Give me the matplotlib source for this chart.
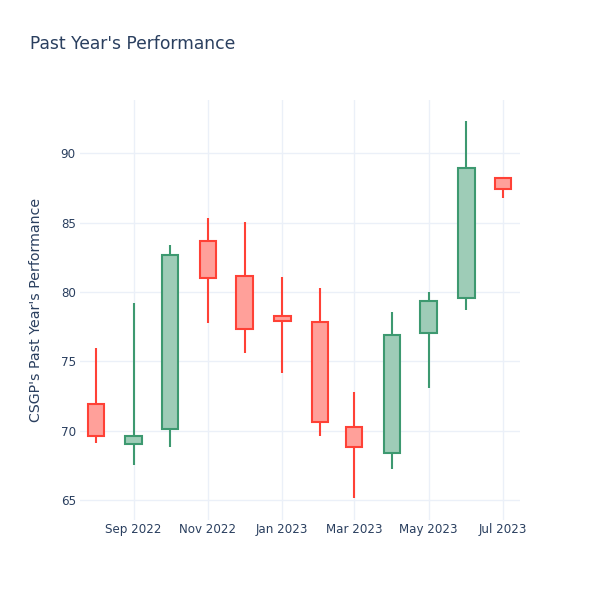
import numpy as np
import matplotlib
matplotlib.use("Agg")
import matplotlib.pyplot as plt
import matplotlib.dates as mdates
import pandas as pd

# monthly OHLC
months = ["2022-08-01", "2022-09-01", "2022-10-01", "2022-11-01", "2022-12-01", "2023-01-01",
          "2023-02-01", "2023-03-01", "2023-04-01", "2023-05-01", "2023-06-01", "2023-07-01"]
opens = [71.92, 69.03, 70.14, 83.68, 81.16, 78.30, 77.87, 70.28, 68.43, 77.06, 79.58, 88.22]
highs = [75.95, 79.19, 83.37, 85.32, 85.03, 81.11, 80.30, 72.78, 78.59, 80.03, 92.33, 88.27]
lows = [69.11, 67.55, 68.87, 77.80, 75.64, 74.15, 69.63, 65.14, 67.23, 73.07, 78.71, 86.76]
closes = [69.63, 69.63, 82.70, 81.04, 77.32, 77.90, 70.67, 68.84, 76.91, 79.39, 88.97, 87.45]

dates = pd.to_datetime(months)
x = mdates.date2num(dates)

inc_line, inc_fill = "#3D9970", "#9ECCB7"
dec_line, dec_fill = "#FF4136", "#FFA09A"
text_col = "#2a3f5f"
grid_col = "#EBF0F8"

fig = plt.figure(figsize=(6, 6), dpi=100)
ax = fig.add_axes([80 / 600, 80 / 600, 440 / 600, 420 / 600])

for xi, o, h, l, c in zip(x, opens, highs, lows, closes):
    up = c >= o
    lc = inc_line if up else dec_line
    fc = inc_fill if up else dec_fill
    lo_b, hi_b = min(o, c), max(o, c)
    ax.vlines(xi, l, lo_b, color=lc, lw=1.5, zorder=2)
    ax.vlines(xi, hi_b, h, color=lc, lw=1.5, zorder=2)
    ax.bar(xi, hi_b - lo_b, bottom=lo_b, width=13.5, color=fc, edgecolor=lc,
           linewidth=1.5, zorder=3)

ax.set_xlim(mdates.date2num(pd.Timestamp("2022-07-19")), mdates.date2num(pd.Timestamp("2023-07-15")))
ax.set_ylim(63.58, 93.84)

ax.xaxis.set_major_locator(mdates.MonthLocator(bymonth=[1, 3, 5, 7, 9, 11]))
ax.xaxis.set_major_formatter(mdates.DateFormatter("%b %Y"))
ax.set_yticks([65, 70, 75, 80, 85, 90])

ax.grid(True, color=grid_col, lw=1, zorder=0)
ax.set_axisbelow(True)
for s in ax.spines.values():
    s.set_visible(False)
ax.tick_params(length=0, labelsize=8.6, colors=text_col)
ax.tick_params(axis="x", pad=2)
ax.tick_params(axis="y", pad=3)

ax.set_ylabel("CSGP's Past Year's Performance", fontsize=10.2, color=text_col, labelpad=12.5)
fig.text(30 / 600, 1 - 44 / 600, "Past Year's Performance", fontsize=12.3, color=text_col,
         va="center", ha="left")

fig.savefig("out.png", dpi=100)
